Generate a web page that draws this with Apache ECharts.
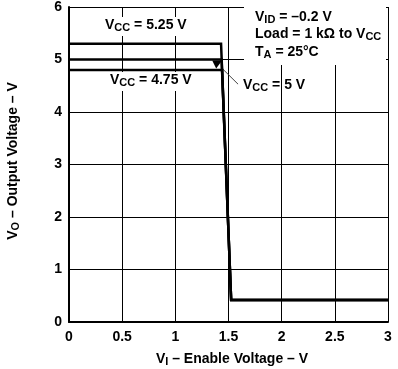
<!DOCTYPE html>
<html><head><meta charset="utf-8">
<script src="https://cdn.jsdelivr.net/npm/echarts@6/dist/echarts.min.js"></script>
<style>html,body{margin:0;padding:0;background:#fff;}#c{width:398px;height:369px;}</style>
</head><body><div id="c"></div>
<script>
// data
const xTicks = [0, 0.5, 1, 1.5, 2, 2.5, 3];
const yTicks = [0, 1, 2, 3, 4, 5, 6];
const vcc525X = [0, 1.43, 1.525, 3];
const vcc525Y = [5.3, 5.3, 0.42, 0.42];
const vcc5X = [0, 1.435, 1.525, 3];
const vcc5Y = [5.0, 5.0, 0.42, 0.42];
const vcc475X = [0, 1.44, 1.525, 3];
const vcc475Y = [4.8, 4.8, 0.42, 0.42];
const wedgeX = [1.347, 1.44, 1.384];
const wedgeY = [4.98, 4.98, 4.83];
const leaderX = [1.44, 1.59];
const leaderY = [4.83, 4.53];

const zip = (xs, ys) => xs.map((x, i) => [x, ys[i]]);
const FF = '"Liberation Sans", Arial, sans-serif';
const BASE = 14, SUB = 11, SUBDY = 4.5;
const mctx = document.createElement('canvas').getContext('2d');
function tw(t, size) { mctx.font = 'bold ' + size + 'px ' + FF; return mctx.measureText(t).width; }

// parts: array of [text, isSub]
function richLabel(parts, bg) {
  const children = [];
  let cx = 0;
  parts.forEach(([t, sub]) => {
    const size = sub ? SUB : BASE;
    children.push({type: 'text', x: cx, y: sub ? SUBDY : 0, z: 21,
      style: {text: t, fill: '#000', font: 'bold ' + size + 'px ' + FF, align: 'left', verticalAlign: 'top'}});
    cx += tw(t, size);
  });
  if (bg) children.unshift({type: 'rect', z: 19, shape: {x: -3, y: -1, width: cx + 6, height: 19}, style: {fill: '#fff'}});
  return {children: children, width: cx};
}
function lbl(parts, x, y, bg) {
  const r = richLabel(parts, bg);
  return {type: 'group', x: x, y: y, z: 20, children: r.children};
}
function centered(parts, cx, cy, rot) {
  const r = richLabel(parts, false);
  return {type: 'group', x: cx, y: cy, rotation: rot || 0, z: 20,
    children: [{type: 'group', x: -r.width / 2, y: -8, children: r.children}]};
}
const lineSeries = (xs, ys) => ({type: 'line', data: zip(xs, ys), symbol: 'none', z: 5,
  lineStyle: {color: '#000', width: 2.5, join: 'miter'}, animation: false});

const chart = echarts.init(document.getElementById('c'));
chart.setOption({
  animation: false,
  grid: {left: 69, right: 10, top: 4, bottom: 47, containLabel: false},
  xAxis: {type: 'value', min: 0, max: 3, interval: 0.5,
    axisLine: {show: true, onZero: false, lineStyle: {color: '#000', width: 2}},
    axisTick: {show: false},
    splitLine: {show: true, lineStyle: {color: '#000', width: 1}},
    axisLabel: {color: '#000', fontSize: 14, fontWeight: 'bold', fontFamily: FF, margin: 8,
      formatter: v => xTicks.includes(v) ? String(v) : ''}},
  yAxis: {type: 'value', min: 0, max: 6, interval: 1,
    axisLine: {show: true, onZero: false, lineStyle: {color: '#000', width: 2}},
    axisTick: {show: false},
    splitLine: {show: true, lineStyle: {color: '#000', width: 1}},
    axisLabel: {color: '#000', fontSize: 14, fontWeight: 'bold', fontFamily: FF, margin: 7,
      padding: [4, 0, 0, 0],
      formatter: v => yTicks.includes(v) ? String(v) : ''}},
  series: [
    lineSeries(vcc525X, vcc525Y),
    lineSeries(vcc5X, vcc5Y),
    lineSeries(vcc475X, vcc475Y),
    {type: 'line', data: zip(leaderX, leaderY), symbol: 'none', z: 4,
      lineStyle: {color: '#444', width: 1}},
    {type: 'custom', z: 6, data: [0],
      renderItem: (params, api) => ({type: 'polygon',
        shape: {points: wedgeX.map((x, i) => api.coord([x, wedgeY[i]]))},
        style: {fill: '#000'}})}
  ],
  graphic: [
    {type: 'rect', z: 15, shape: {x: 244, y: 5, width: 142, height: 60}, style: {fill: '#fff'}},
    lbl([['V'], ['CC', 1], [' = 5.25 V']], 105, 18, true),
    lbl([['V'], ['CC', 1], [' = 4.75 V']], 110, 73, true),
    lbl([['V'], ['ID', 1], [' = \u20130.2 V']], 255, 10, false),
    lbl([['Load = 1 k\u03A9 to V'], ['CC', 1]], 255, 27, false),
    lbl([['T'], ['A', 1], [' = 25\u00B0C']], 255, 45, false),
    lbl([['V'], ['CC', 1], [' = 5 V']], 243, 78, false),
    centered([['V'], ['I', 1], [' \u2013 Enable Voltage \u2013 V']], 232, 360, 0),
    centered([['V'], ['O', 1], [' \u2013 Output Voltage \u2013 V']], 14, 161, Math.PI / 2)
  ]
});
</script></body></html>
